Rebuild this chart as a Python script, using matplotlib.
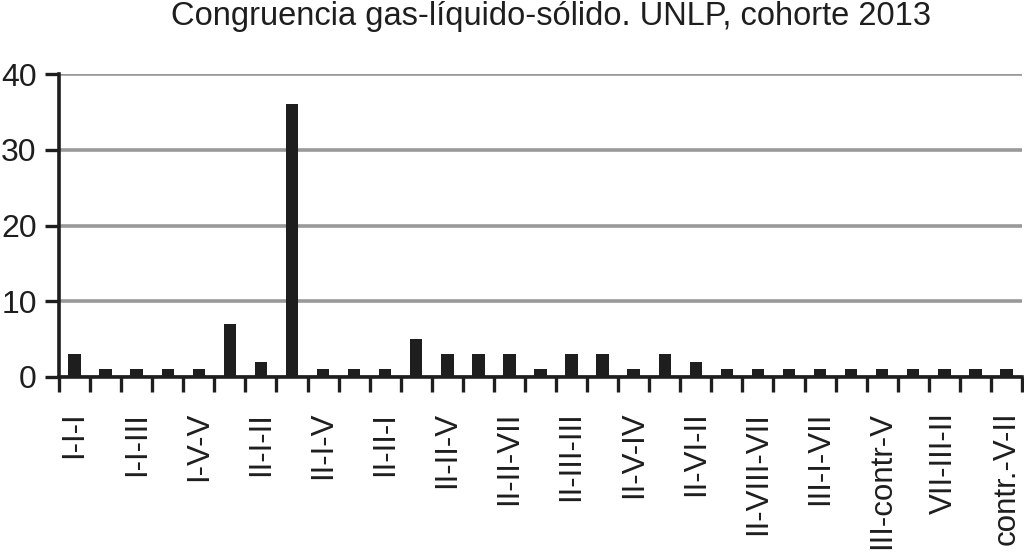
import matplotlib
matplotlib.use("Agg")
import matplotlib.pyplot as plt
import numpy as np

title = "Congruencia gas-líquido-sólido. UNLP, cohorte 2013"
shown_labels = ["I-I-I", "I-I-III", "I-V-V", "II-I-II", "II-I-V", "II-II-I", "II-II-V",
                "II-II-VII", "II-III-III", "II-V-IV", "II-VI-II", "II-VIII-VII",
                "III-I-VII", "III-contr-V", "VII-III-II", "contr.-V-II"]
values = [3, 1, 1, 1, 1, 7, 2, 36, 1, 1, 1, 5, 3, 3, 3, 1, 3, 3, 1, 3, 2,
          1, 1, 1, 1, 1, 1, 1, 1, 1, 1]
yticks = [0, 10, 20, 30, 40]

plt.rcParams['font.family'] = ['Liberation Sans', 'DejaVu Sans']

fig = plt.figure(figsize=(10.24, 5.57), dpi=100)
ax = fig.add_axes([59/1024, 1-377/557, 963/1024, 303/557])

x = np.arange(len(values))
ax.bar(x, values, width=0.4, color='#1e1e1e', zorder=3)

ax.set_xlim(-0.5, len(values) - 0.5)
ax.set_ylim(0, 40)
ax.set_yticks(yticks)
ax.yaxis.grid(True, color='#999999', linewidth=2.6, zorder=0)
ax.set_axisbelow(True)

labels = [""] * len(values)
for i, lab in enumerate(shown_labels):
    labels[2 * i] = lab
ax.set_xticks(x)
ax.set_xticklabels(labels, rotation=90, fontsize=22.5, color='#1e1e1e')
ax.tick_params(axis='x', which='major', length=0, pad=25)
ax.set_xticks(np.arange(len(values) + 1) - 0.5, minor=True)
ax.tick_params(axis='x', which='minor', length=11, width=2.4, direction='out', color='#1e1e1e')
ax.tick_params(axis='y', length=10, width=2.4, labelsize=23, pad=6, color='#1e1e1e',
               labelcolor='#1e1e1e')

for s in ['top', 'right']:
    ax.spines[s].set_visible(False)
for s in ['left', 'bottom']:
    ax.spines[s].set_linewidth(2.6)
    ax.spines[s].set_color('#1e1e1e')

fig.text(551/1024, 1-17/557, title, ha='center', va='center', fontsize=23.5, color='#1e1e1e')

fig.savefig("out.png", dpi=100)
